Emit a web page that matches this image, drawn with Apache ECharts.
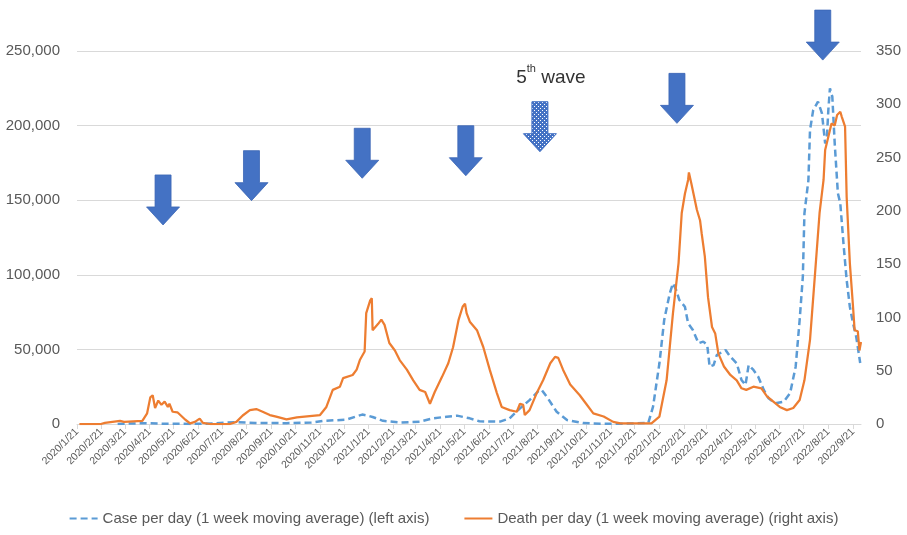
<!DOCTYPE html>
<html>
<head>
<meta charset="utf-8">
<script src="https://cdn.jsdelivr.net/npm/echarts@6/dist/echarts.min.js"></script>
<style>
  html, body { margin: 0; padding: 0; background: #ffffff; }
  #chart { width: 907px; height: 535px; }
</style>
</head>
<body>
<div id="chart"></div>
<script>
// Monthly tick labels along the date axis
const tickLabels = [
  '2020/1/21','2020/2/21','2020/3/21','2020/4/21','2020/5/21','2020/6/21','2020/7/21','2020/8/21',
  '2020/9/21','2020/10/21','2020/11/21','2020/12/21','2021/1/21','2021/2/21','2021/3/21','2021/4/21',
  '2021/5/21','2021/6/21','2021/7/21','2021/8/21','2021/9/21','2021/10/21','2021/11/21','2021/12/21',
  '2022/1/21','2022/2/21','2022/3/21','2022/4/21','2022/5/21','2022/6/21','2022/7/21','2022/8/21','2022/9/21'
];

// New cases per day, 1 week moving average (left axis)
const caseDates = [
  '2020-03-12','2020-04-12','2020-05-10','2020-06-10','2020-07-10','2020-08-07','2020-09-01','2020-10-10',
  '2020-11-10','2020-11-25','2020-12-24','2021-01-06','2021-01-13','2021-01-20','2021-01-26','2021-02-08',
  '2021-03-01','2021-03-26','2021-04-12','2021-04-29','2021-05-12','2021-05-28','2021-06-09','2021-07-05',
  '2021-07-17','2021-07-30','2021-08-11','2021-08-22','2021-08-26','2021-09-03','2021-09-14','2021-09-27',
  '2021-10-17','2021-11-08','2021-12-03','2022-01-07','2022-01-13','2022-01-21','2022-01-27','2022-02-03',
  '2022-02-07','2022-02-11','2022-02-15','2022-02-22','2022-02-26','2022-03-04','2022-03-11','2022-03-17',
  '2022-03-22','2022-03-25','2022-03-30','2022-04-03','2022-04-14','2022-04-20','2022-04-28','2022-05-04',
  '2022-05-09','2022-05-13','2022-05-19','2022-05-25','2022-06-01','2022-06-07','2022-06-15','2022-06-26',
  '2022-07-04','2022-07-11','2022-07-16','2022-07-20','2022-07-22','2022-07-27','2022-07-29','2022-08-02',
  '2022-08-08','2022-08-13','2022-08-17','2022-08-19','2022-08-21','2022-08-23','2022-08-26','2022-08-29',
  '2022-09-02','2022-09-05','2022-09-09','2022-09-13','2022-09-17','2022-09-21','2022-09-25','2022-09-30'
];
const caseValues = [
  50, 550, 200, 50, 300, 1300, 700, 550,
  1000, 2100, 2900, 5200, 6300, 5600, 4700, 2100,
  1000, 1500, 3800, 4900, 5600, 3800, 1800, 1600,
  3800, 10500, 16000, 22000, 23000, 17200, 8200, 2700,
  600, 200, 150, 700, 11600, 40700, 69700, 87600,
  94300, 89800, 83100, 78600, 67500, 63000, 54100, 55200,
  53000, 38400, 39500, 46200, 49600, 45100, 40700, 29500,
  26100, 39500, 36200, 31700, 22800, 17200, 13900, 15000,
  20600, 38400, 69700, 98700, 141200, 163500, 197000, 210400,
  216000, 208200, 188100, 190300, 210400, 225000, 219400, 188100,
  154600, 148000, 121000, 96500, 78600, 67500, 58500, 40900
];

// Deaths per day, 1 week moving average (right axis)
const deathDates = [
  '2020-01-24','2020-02-20','2020-02-25','2020-03-15','2020-03-20','2020-04-12','2020-04-18','2020-04-22',
  '2020-04-25','2020-04-28','2020-05-02','2020-05-06','2020-05-10','2020-05-14','2020-05-16','2020-05-20',
  '2020-05-26','2020-06-05','2020-06-11','2020-06-17','2020-06-23','2020-06-27','2020-07-06','2020-07-31',
  '2020-08-08','2020-08-16','2020-08-25','2020-09-02','2020-09-10','2020-09-19','2020-09-27','2020-10-10',
  '2020-10-23','2020-11-08','2020-11-21','2020-11-29','2020-12-07','2020-12-16','2020-12-20','2021-01-01',
  '2021-01-06','2021-01-10','2021-01-16','2021-01-18','2021-01-23','2021-01-25','2021-01-26','2021-02-02',
  '2021-02-06','2021-02-10','2021-02-16','2021-02-23','2021-03-01','2021-03-10','2021-03-18','2021-03-26',
  '2021-04-02','2021-04-08','2021-04-14','2021-04-23','2021-05-01','2021-05-07','2021-05-14','2021-05-19',
  '2021-05-22','2021-05-24','2021-05-28','2021-06-06','2021-06-14','2021-06-22','2021-07-01','2021-07-07',
  '2021-07-17','2021-07-26','2021-07-30','2021-08-03','2021-08-05','2021-08-11','2021-08-20','2021-08-28',
  '2021-09-06','2021-09-12','2021-09-16','2021-09-22','2021-10-01','2021-10-13','2021-10-21','2021-10-30',
  '2021-11-12','2021-11-24','2021-12-03','2022-01-11','2022-01-21','2022-01-30','2022-02-07','2022-02-14',
  '2022-02-18','2022-02-22','2022-02-26','2022-02-27','2022-03-02','2022-03-09','2022-03-13','2022-03-15',
  '2022-03-19','2022-03-23','2022-03-28','2022-04-01','2022-04-05','2022-04-12','2022-04-20','2022-04-28',
  '2022-05-04','2022-05-10','2022-05-19','2022-05-29','2022-06-05','2022-06-13','2022-06-21','2022-06-30',
  '2022-07-08','2022-07-16','2022-07-22','2022-07-29','2022-08-04','2022-08-10','2022-08-15','2022-08-17',
  '2022-08-25','2022-08-29','2022-09-01','2022-09-05','2022-09-07','2022-09-11','2022-09-13','2022-09-17',
  '2022-09-21','2022-09-23','2022-09-27','2022-09-29','2022-10-01'
];
const deathValues = [
  0, 0, 1, 3, 2, 3, 10, 25,
  27, 15, 22, 18, 21, 16, 19, 11.5,
  11, 4, 0.6, 2, 5, 1, 0, 0,
  2, 8, 13, 14, 11.5, 8.4, 7, 4.4,
  6.3, 7.5, 8.4, 16, 32, 35, 43, 46,
  51, 60, 68, 104, 116, 118, 88, 94,
  98, 93, 76, 69, 60, 51, 41, 32,
  30, 19, 30, 44, 57, 72, 98, 110,
  113, 104, 96, 88, 72, 51, 29, 16,
  13, 11.5, 19, 18, 8.4, 13, 29, 41,
  57, 63, 62, 51, 37, 27, 19, 10,
  7, 2, 0.5, 0.6, 7, 41, 104, 151,
  198, 216, 229, 236, 226, 201, 191, 179,
  157, 119, 91, 85, 66, 54, 46, 41,
  33.5, 32, 35, 33.5, 26, 21, 16, 13,
  15, 22.5, 41, 79, 138, 198, 229, 257,
  282, 280, 290, 293, 288, 279, 213, 151,
  110, 88, 87, 69, 77
];

// Wave markers: arrow tip date and height on the left axis
const waveDates  = ['2020-05-08','2020-08-27','2021-01-13','2021-05-23','2021-08-24','2022-02-12','2022-08-14'];
const waveLevels = [133400, 149700, 164700, 166400, 182500, 201500, 243900];
const patternedWave = 4; // the 5th wave arrow uses a dotted fill

function toTs(s) {
  const p = s.split('-').map(Number);
  return new Date(p[0], p[1] - 1, p[2]).getTime();
}
function labelTs(s) {
  const p = s.split('/').map(Number);
  return new Date(p[0], p[1] - 1, p[2]).getTime();
}

const tickValues = tickLabels.map(labelTs);
const caseData = caseDates.map((d, i) => [toTs(d), caseValues[i]]);
const deathData = deathDates.map((d, i) => [toTs(d), deathValues[i]]);

// dotted fill for the 5th wave arrow
const pat = document.createElement('canvas');
pat.width = 4; pat.height = 4;
const pctx = pat.getContext('2d');
pctx.fillStyle = '#4472C4';
pctx.fillRect(0, 0, 4, 4);
pctx.fillStyle = '#ffffff';
pctx.fillRect(0, 0, 1, 1);
pctx.fillRect(2, 2, 1, 1);

const FONT = '"Liberation Sans", Arial, sans-serif';
const GREY = '#595959';

function dateLabel(v) {
  const d = new Date(v);
  return d.getFullYear() + '/' + (d.getMonth() + 1) + '/' + d.getDate();
}

const chart = echarts.init(document.getElementById('chart'), null, { renderer: 'canvas' });

chart.setOption({
  animation: false,
  backgroundColor: '#ffffff',
  textStyle: { fontFamily: FONT },
  grid: { left: 77, right: 46, top: 51, bottom: 111, containLabel: false },
  legend: {
    bottom: 4,
    left: 'center',
    itemWidth: 28,
    itemHeight: 14,
    itemGap: 34,
    itemStyle: { opacity: 0 },
    textStyle: { fontFamily: FONT, fontSize: 15, color: GREY },
    data: [
      { name: 'Case per day (1 week moving average) (left axis)' },
      { name: 'Death per day (1 week moving average) (right axis)' }
    ]
  },
  xAxis: {
    type: 'value',
    min: toTs('2020-01-21'),
    max: toTs('2022-10-01'),
    axisLine: { show: true, onZero: false, lineStyle: { color: '#D9D9D9', width: 1 } },
    axisTick: { show: true, customValues: tickValues, length: 5, lineStyle: { color: '#D9D9D9' } },
    axisLabel: {
      customValues: tickValues,
      rotate: 45,
      fontSize: 10.5,
      color: GREY,
      fontFamily: FONT,
      margin: 6,
      showMinLabel: true,
      showMaxLabel: true,
      hideOverlap: false,
      formatter: dateLabel
    },
    splitLine: { show: false }
  },
  yAxis: [
    {
      type: 'value',
      min: 0, max: 250000, interval: 50000,
      axisLine: { show: false },
      axisTick: { show: false },
      axisLabel: {
        fontSize: 15, color: GREY, fontFamily: FONT, margin: 17,
        formatter: v => v.toLocaleString('en-US')
      },
      splitLine: { lineStyle: { color: '#D9D9D9', width: 1 } }
    },
    {
      type: 'value',
      min: 0, max: 350, interval: 50,
      position: 'right',
      axisLine: { show: false },
      axisTick: { show: false },
      axisLabel: { fontSize: 15, color: GREY, fontFamily: FONT, margin: 15 },
      splitLine: { show: false }
    }
  ],
  series: [
    {
      name: 'Case per day (1 week moving average) (left axis)',
      type: 'line',
      yAxisIndex: 0,
      data: caseData,
      showSymbol: false,
      symbol: 'none',
      color: '#5B9BD5',
      lineStyle: { color: '#5B9BD5', width: 2.5, type: [7, 4] },
      z: 2
    },
    {
      name: 'Death per day (1 week moving average) (right axis)',
      type: 'line',
      yAxisIndex: 1,
      data: deathData,
      showSymbol: false,
      symbol: 'none',
      color: '#ED7D31',
      lineStyle: { color: '#ED7D31', width: 2.25 },
      z: 3
    }
  ]
});

// Down arrows marking each wave, placed from their date/level through the axes
const SHAFT = 8, HEAD = 16.5, LEN = 50, HEAD_LEN = 18;
const arrows = waveDates.map((d, i) => {
  const tip = chart.convertToPixel({ xAxisIndex: 0, yAxisIndex: 0 }, [toTs(d), waveLevels[i]]);
  const x = tip[0], y = tip[1];
  const pts = [
    [x - SHAFT, y - LEN], [x + SHAFT, y - LEN], [x + SHAFT, y - HEAD_LEN],
    [x + HEAD, y - HEAD_LEN], [x, y], [x - HEAD, y - HEAD_LEN], [x - SHAFT, y - HEAD_LEN]
  ];
  return {
    type: 'polygon',
    z: 20,
    silent: true,
    shape: { points: pts },
    style: i === patternedWave
      ? { fill: { image: pat, repeat: 'repeat' }, stroke: '#4472C4', lineWidth: 1 }
      : { fill: '#4472C4', stroke: '#3B66B5', lineWidth: 0.8 }
  };
});

// "5th wave" caption above the dotted arrow
const capAnchor = chart.convertToPixel({ xAxisIndex: 0, yAxisIndex: 0 },
  [toTs(waveDates[patternedWave]), waveLevels[patternedWave]]);
arrows.push({
  type: 'text',
  z: 21,
  silent: true,
  x: capAnchor[0] + 11,
  y: capAnchor[1] - 76,
  style: {
    text: '{n|5}{s|th}{n| wave}',
    align: 'center',
    verticalAlign: 'middle',
    rich: {
      n: { fontSize: 19, fontFamily: FONT, fill: '#333333', verticalAlign: 'bottom', lineHeight: 24 },
      s: { fontSize: 11, fontFamily: FONT, fill: '#333333', verticalAlign: 'top', lineHeight: 24, padding: [0, 0, 9, 0] }
    }
  }
});

chart.setOption({ graphic: arrows });
</script>
</body>
</html>
